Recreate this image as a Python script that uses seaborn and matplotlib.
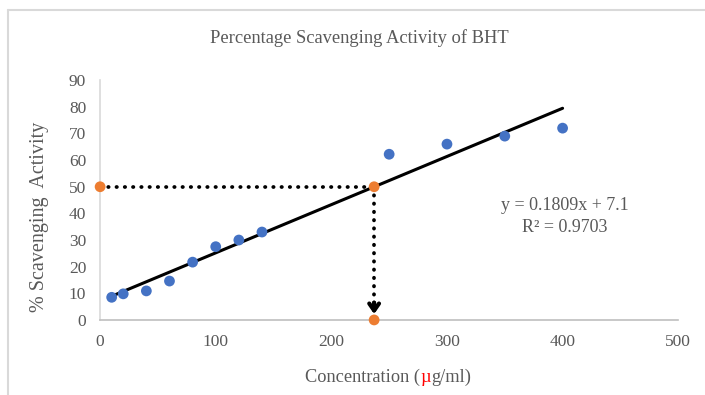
import numpy as np
import pandas as pd
import matplotlib
matplotlib.use("Agg")
import matplotlib.pyplot as plt
import seaborn as sns
from matplotlib.offsetbox import TextArea, HPacker, AnchoredOffsetbox
from matplotlib.lines import Line2D

# measured data
conc = [10, 20, 40, 60, 80, 100, 120, 140, 250, 300, 350, 400]
scavenging = [8.5, 9.8, 10.9, 14.6, 21.7, 27.5, 30.0, 33.0, 62.2, 66.0, 69.0, 72.0]

# linear trendline (as reported on the chart)
slope = 0.1809
intercept = 7.1
trend_x = [10, 400]

# IC50 read-off points
ic50_x = [0, 237, 237]
ic50_y = [50, 50, 0]

x_ticks = [0, 100, 200, 300, 400, 500]
y_ticks = [0, 10, 20, 30, 40, 50, 60, 70, 80, 90]

grey = "#595959"
serif = "Liberation Serif"

sns.set_style("white")
plt.rcParams["font.family"] = [serif, "DejaVu Serif"]

fig = plt.figure(figsize=(7.05, 3.95), dpi=100)
ax = fig.add_axes([0.142, 0.19, 0.82, 0.607])

df = pd.DataFrame({"conc": conc, "scav": scavenging})
trend = pd.DataFrame({"x": trend_x, "y": [slope * v + intercept for v in trend_x]})
ic50 = pd.DataFrame({"x": ic50_x, "y": ic50_y})

sns.lineplot(data=trend, x="x", y="y", color="black", linewidth=2.2, ax=ax, zorder=2)
sns.scatterplot(data=df, x="conc", y="scav", color="#4472C4", s=60, edgecolor="none",
                ax=ax, zorder=3)

# dotted guide lines to the IC50
dots = dict(color="black", linewidth=2.7, linestyle=(0, (0.1, 2.1)),
            dash_capstyle="round", zorder=2)
ax.plot([ic50_x[0], ic50_x[1]], [ic50_y[0], ic50_y[1]], **dots)
ax.plot([ic50_x[1], ic50_x[2]], [ic50_y[1], 4], **dots)
ax.annotate("", xy=(ic50_x[2], 2.2), xytext=(ic50_x[2], 6.5),
            arrowprops=dict(arrowstyle="->,head_length=0.5,head_width=0.35",
                            color="black", lw=3.0, shrinkA=0, shrinkB=0), zorder=2)

sns.scatterplot(data=ic50, x="x", y="y", color="#ED7D31", s=60, edgecolor="none",
                ax=ax, zorder=4, clip_on=False)

ax.text(402, 38.8, "y = 0.1809x + 7.1\nR² = 0.9703", ha="center", va="center",
        fontsize=13, color=grey, linespacing=1.4)

ax.set_xlim(0, 500)
ax.set_ylim(0, 90)
ax.set_xticks(x_ticks)
ax.set_yticks(y_ticks)
ax.tick_params(length=0, labelsize=12.5, labelcolor=grey)
ax.tick_params(axis="x", pad=10)
ax.tick_params(axis="y", pad=10)
for side in ["top", "right"]:
    ax.spines[side].set_visible(False)
ax.spines["left"].set_color("#d9d9d9")
ax.spines["bottom"].set_color("#bfbfbf")
ax.spines["left"].set_linewidth(1.2)
ax.spines["bottom"].set_linewidth(1.2)

ax.set_xlabel("")
ax.set_ylabel("")
fig.text(40 / 705, 1 - 217 / 395, "% Scavenging  Activity", rotation=90,
         ha="center", va="center", fontsize=14.5, color=grey)

# x label with red micro sign
tp = dict(color=grey, fontsize=13.2, family=serif)
parts = [TextArea("Concentration (", textprops=tp),
         TextArea("µ", textprops=dict(tp, color="red")),
         TextArea("g/ml)", textprops=tp)]
box = HPacker(children=parts, align="baseline", pad=0, sep=0)
lab = AnchoredOffsetbox(loc="center", child=box, pad=0, frameon=False, borderpad=0,
                        bbox_to_anchor=(388 / 705, 1 - 377 / 395),
                        bbox_transform=fig.transFigure)
fig.add_artist(lab)

fig.text(359 / 705, 1 - 38 / 395, "Percentage Scavenging Activity of BHT", ha="center",
         va="center", fontsize=13.3, color=grey)

# chart area border (top and left edges)
fig.add_artist(Line2D([8 / 705, 1], [1 - 10 / 395] * 2, transform=fig.transFigure,
                      color="#d9d9d9", lw=1.5))
fig.add_artist(Line2D([8 / 705] * 2, [0, 1 - 10 / 395], transform=fig.transFigure,
                      color="#d9d9d9", lw=1.5))

fig.savefig("out.png", dpi=100)
